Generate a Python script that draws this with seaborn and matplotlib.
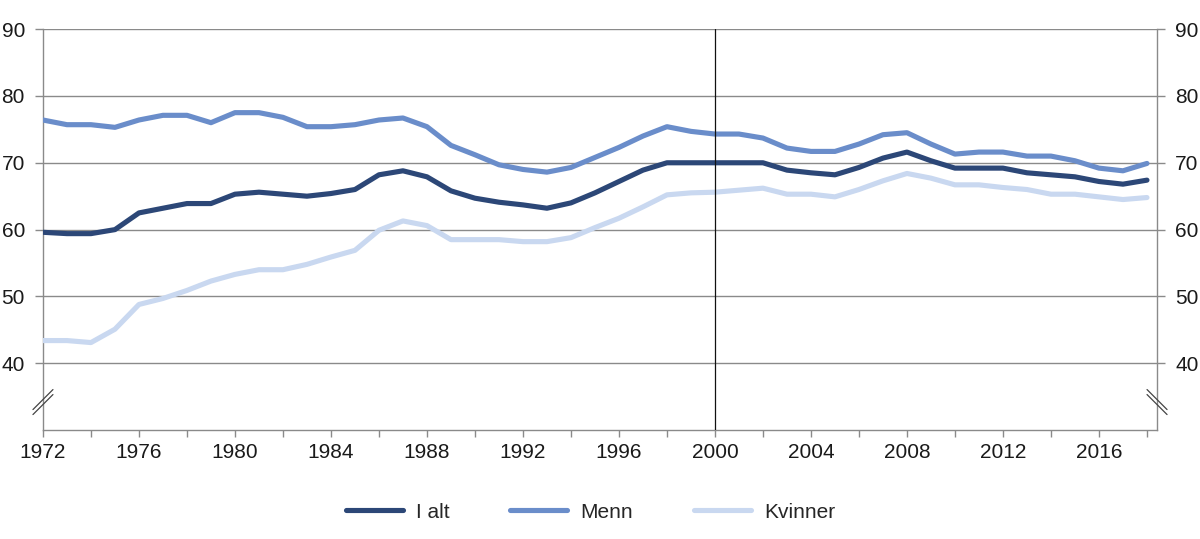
import seaborn as sns
import pandas as pd
import numpy as np
import matplotlib.pyplot as plt

# Data
years = list(range(1972, 2019))
i_alt = [59.6, 59.4, 59.4, 60.0, 62.5, 63.2, 63.9, 63.9, 65.3, 65.6, 65.3, 65.0, 65.4, 66.0,
         68.2, 68.8, 67.9, 65.8, 64.7, 64.1, 63.7, 63.2, 64.0, 65.5, 67.2, 68.9, 70.0, 70.0,
         70.0, 70.0, 70.0, 68.9, 68.5, 68.2, 69.3, 70.7, 71.6, 70.3, 69.2, 69.2, 69.2, 68.5,
         68.2, 67.9, 67.2, 66.8, 67.4]
menn = [76.4, 75.7, 75.7, 75.3, 76.4, 77.1, 77.1, 76.0, 77.5, 77.5, 76.8, 75.4, 75.4, 75.7,
        76.4, 76.7, 75.4, 72.6, 71.2, 69.7, 69.0, 68.6, 69.3, 70.8, 72.3, 74.0, 75.4, 74.7,
        74.3, 74.3, 73.7, 72.2, 71.7, 71.7, 72.8, 74.2, 74.5, 72.8, 71.3, 71.6, 71.6, 71.0,
        71.0, 70.3, 69.2, 68.8, 69.9]
kvinner = [43.4, 43.4, 43.1, 45.1, 48.8, 49.7, 50.9, 52.3, 53.3, 54.0, 54.0, 54.8, 55.9, 56.9,
           59.9, 61.3, 60.6, 58.5, 58.5, 58.5, 58.2, 58.2, 58.8, 60.3, 61.7, 63.4, 65.2, 65.5,
           65.6, 65.9, 66.2, 65.3, 65.3, 64.9, 66.0, 67.3, 68.4, 67.7, 66.7, 66.7, 66.3, 66.0,
           65.3, 65.3, 64.9, 64.5, 64.8]
series_names = ['I alt', 'Menn', 'Kvinner']
colors = ['#2c4777', '#6a8dca', '#c9d8f0']

df = pd.DataFrame({'year': years, 'I alt': i_alt, 'Menn': menn, 'Kvinner': kvinner})
long = df.melt(id_vars='year', var_name='serie', value_name='verdi')

sns.set_style('white')
plt.rcParams['font.family'] = ['Liberation Sans', 'DejaVu Sans']

fig = plt.figure(figsize=(12, 5.39), dpi=100)
ax = fig.add_axes([0.0358, 0.202, 0.9284, 0.744])

grid_c = '#8a8a8a'
for v in range(40, 91, 10):
    ax.axhline(v, color=grid_c, lw=1.0, zorder=1)

sns.lineplot(data=long, x='year', y='verdi', hue='serie', hue_order=series_names,
             palette=colors, lw=3.7, ax=ax, legend=True, zorder=3)
ax.axvline(2000, color='#111111', lw=0.9, zorder=4)

ax.set_xlim(1972, 2018.42)
ax.set_ylim(30, 90)
ax.set_yticks(range(40, 91, 10))
ax.set_xticks(range(1972, 2019, 2))
ax.set_xticklabels([str(y) if (y - 1972) % 4 == 0 else '' for y in range(1972, 2019, 2)])
ax.set_xlabel('')
ax.set_ylabel('')

for s in ['left', 'right', 'bottom']:
    ax.spines[s].set_color(grid_c)
    ax.spines[s].set_linewidth(1.0)
ax.spines['top'].set_visible(False)

ax.tick_params(axis='y', which='both', left=True, right=True, labelleft=True, labelright=True,
               length=6, width=1.0, color=grid_c, pad=7, labelsize=15, labelcolor='#1a1a1a')
ax.tick_params(axis='x', bottom=True, length=5, width=1.0, color=grid_c, pad=4,
               labelsize=15, labelcolor='#1a1a1a')

# axis break marks
w_px, h_px = 0.9284 * 1200, 0.744 * 539
yb = 0.07
dx, dy = 10 / w_px, 10 / h_px
off = 5 / h_px
for x0, sgn in [(0.0, 1), (1.0, -1)]:
    for o in (off / 2, -off / 2):
        ax.plot([x0 - dx, x0 + dx], [yb + o - sgn * dy, yb + o + sgn * dy],
                transform=ax.transAxes, color='#444444', lw=0.9, clip_on=False, zorder=5)

handles, labels = ax.get_legend_handles_labels()
ax.get_legend().remove()
fig.legend(handles, labels, loc='center', bbox_to_anchor=(0.492, 0.05), ncol=3, frameon=False,
           fontsize=15, handlelength=2.75, handletextpad=0.63, columnspacing=2.9)

fig.savefig('out.png', dpi=100)
